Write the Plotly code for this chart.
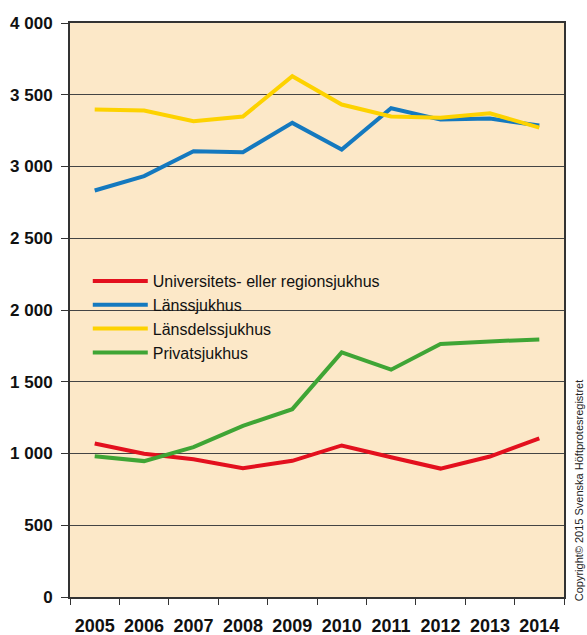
import plotly.graph_objects as go

years = ["2005", "2006", "2007", "2008", "2009", "2010", "2011", "2012", "2013", "2014"]
univ = [1070, 998, 960, 898, 949, 1056, 974, 895, 979, 1105]
lans = [2833, 2933, 3107, 3100, 3304, 3118, 3406, 3327, 3334, 3285]
lansdels = [3397, 3390, 3316, 3348, 3629, 3432, 3348, 3339, 3371, 3271]
privat = [981, 947, 1044, 1193, 1309, 1705, 1584, 1763, 1781, 1795]

names = ["Universitets- eller regionsjukhus", "Länssjukhus", "Länsdelssjukhus", "Privatsjukhus"]
colors = ["#e3101e", "#1479bf", "#fdd200", "#3fa535"]
series = [univ, lans, lansdels, privat]

FONT = "Liberation Sans, Arial, sans-serif"
BG = "#fce8c8"

fig = go.Figure()
for name, vals, col in zip(names, series, colors):
    fig.add_trace(go.Scatter(x=years, y=vals, mode="lines", name=name,
                             line=dict(color=col, width=4)))

fig.update_layout(
    width=587, height=635,
    margin=dict(l=70, r=23, t=23, b=38),
    paper_bgcolor="white",
    plot_bgcolor=BG,
    separators=", ",
    font=dict(family=FONT, color="#111"),
    showlegend=True,
    legend=dict(x=0.036, y=0.58, xanchor="left", yanchor="top",
                bgcolor="rgba(0,0,0,0)", borderwidth=0,
                font=dict(size=16, family=FONT, color="#111"),
                itemwidth=55),
    shapes=[dict(type="rect", xref="paper", yref="y", layer="between",
                 x0=0.016, x1=0.579, y0=1950, y1=2050,
                 fillcolor=BG, line=dict(width=0))],
    annotations=[dict(text="Copyright© 2015 Svenska Höftprotesregistret",
                      xref="paper", yref="paper", x=1.0, y=0.186,
                      xanchor="center", yanchor="middle", xshift=15,
                      textangle=-90, showarrow=False,
                      font=dict(size=11, family=FONT, color="#222"))],
)
fig.update_xaxes(
    type="category", range=[-0.5, len(years) - 0.5], automargin=False,
    showgrid=False, showline=True, linecolor="#333", linewidth=2,
    mirror=True, ticks="outside", tickson="boundaries", ticklen=6, tickcolor="#333",
    tickangle=0, ticklabelstandoff=11,
    tickfont=dict(size=18, family=FONT, color="#111", weight="bold"),
)
fig.update_yaxes(
    range=[0, 4000], dtick=500, tickformat=",d", showgrid=True, gridcolor="#444",
    automargin=False, ticklabelstandoff=5,
    gridwidth=1, showline=True, linecolor="#333", linewidth=2, mirror=True,
    ticks="outside", ticklen=7, tickcolor="#333", zeroline=False,
    tickfont=dict(size=17, family=FONT, color="#111", weight="bold"),
)

fig.write_html("out.html", config={"displayModeBar": False},
               post_script="document.body.style.margin='0';document.body.style.overflow='hidden';")
